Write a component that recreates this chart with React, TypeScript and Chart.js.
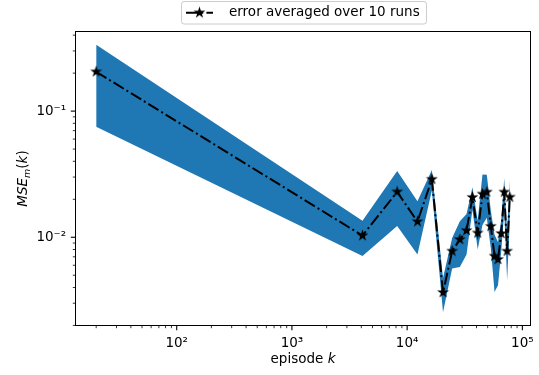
import { useEffect, useRef } from 'react';
import { Chart, registerables } from 'chart.js';

Chart.register(...registerables);

// Episodes at which the error was evaluated
const episodes = [
  20, 4096, 8192, 12288, 16384, 20480, 24576, 28672, 32768, 36864,
  40960, 45056, 49152, 53248, 57344, 61440, 65536, 69632, 73728, 77824,
];

// Mean squared error, averaged over the runs
const mseMean = [
  0.205, 0.0103, 0.0229, 0.0133, 0.0288, 0.00365, 0.00776, 0.0096, 0.0113, 0.0207,
  0.0108, 0.022, 0.0228, 0.0122, 0.00708, 0.00667, 0.0107, 0.0228, 0.00776, 0.0208,
];

// Spread of the error across the runs (one standard deviation)
const mseStd = [
  0.13, 0.0032, 0.0106, 0.006, 0.0053, 0.0011, 0.0021, 0.0038, 0.004, 0.0042,
  0.0028, 0.0095, 0.0085, 0.004, 0.0034, 0.0025, 0.003, 0.0066, 0.0032, 0.0076,
];

const seriesLabel = 'error averaged over 10 runs';

const xTickValues = [100, 1000, 10000, 100000];
const xTickLabels = ['10²', '10³', '10⁴', '10⁵'];
const yTickValues = [0.01, 0.1];
const yTickLabels = ['10⁻²', '10⁻¹'];

const FONT = 'DejaVu Sans';
const FS = 13.5;
const BLUE = '#1f77b4';
const DASH_DOT = [12, 3.2, 2, 3.2];

const W = 539;
const H = 375;
const AREA = { left: 75.5, right: 530.5, top: 31.5, bottom: 325.5 };

const upper = mseMean.map((m, i) => m + mseStd[i]);
const lower = mseMean.map((m, i) => m - mseStd[i]);

// log-axis limits with a 5% margin on each side, in decades
function logLimits(values: number[]): [number, number] {
  const lo = Math.log10(Math.min(...values));
  const hi = Math.log10(Math.max(...values));
  const pad = (hi - lo) * 0.05;
  return [Math.pow(10, lo - pad), Math.pow(10, hi + pad)];
}

const [xMin, xMax] = logLimits(episodes);
const [yMin, yMax] = logLimits([...upper, ...lower]);

function logTicks(min: number, max: number) {
  const ticks: { value: number; major: boolean }[] = [];
  for (let e = Math.floor(Math.log10(min)); e <= Math.ceil(Math.log10(max)); e++) {
    for (let c = 1; c <= 9; c++) {
      const v = c * Math.pow(10, e);
      if (v >= min && v <= max) ticks.push({ value: v, major: c === 1 });
    }
  }
  return ticks;
}

function labelFor(value: number, values: number[], labels: string[]) {
  for (let i = 0; i < values.length; i++) {
    if (Math.abs(Math.log10(value) - Math.log10(values[i])) < 1e-9) return labels[i];
  }
  return '';
}

function makeStar(r: number) {
  const c = document.createElement('canvas');
  const d = Math.ceil(r * 2 + 4);
  c.width = d;
  c.height = d;
  const g = c.getContext('2d')!;
  const cx = d / 2;
  const cy = d / 2;
  g.beginPath();
  for (let i = 0; i < 10; i++) {
    const rr = i % 2 === 0 ? r : r * 0.381966;
    const a = -Math.PI / 2 + (i * Math.PI) / 5;
    g.lineTo(cx + rr * Math.cos(a), cy + rr * Math.sin(a));
  }
  g.closePath();
  g.fillStyle = '#000';
  g.fill();
  g.lineWidth = 1.3;
  g.lineJoin = 'miter';
  g.strokeStyle = '#000';
  g.stroke();
  return c;
}

export default function App() {
  const canvasRef = useRef<HTMLCanvasElement | null>(null);

  useEffect(() => {
    const canvas = canvasRef.current;
    if (!canvas) return;
    const star = makeStar(4.1);

    const decorations = {
      id: 'decorations',
      afterDraw(chart: any) {
        const { ctx, chartArea, scales } = chart;
        const { left, right, top, bottom } = chartArea;
        ctx.save();

        // tick marks
        ctx.strokeStyle = '#000';
        for (const t of scales.x.ticks) {
          const px = scales.x.getPixelForValue(t.value);
          ctx.lineWidth = t.major ? 1.1 : 0.8;
          ctx.beginPath();
          ctx.moveTo(px, bottom);
          ctx.lineTo(px, bottom + (t.major ? 4.7 : 2.7));
          ctx.stroke();
        }
        for (const t of scales.y.ticks) {
          const py = scales.y.getPixelForValue(t.value);
          ctx.lineWidth = t.major ? 1.1 : 0.8;
          ctx.beginPath();
          ctx.moveTo(left, py);
          ctx.lineTo(left - (t.major ? 4.7 : 2.7), py);
          ctx.stroke();
        }

        // axes frame
        ctx.lineWidth = 1;
        ctx.strokeRect(left, top, right - left, bottom - top);

        // x axis title: "episode k"
        ctx.fillStyle = '#000';
        ctx.textBaseline = 'alphabetic';
        ctx.font = `${FS}px "${FONT}"`;
        const w1 = ctx.measureText('episode ').width;
        ctx.font = `italic ${FS}px "${FONT}"`;
        const w2 = ctx.measureText('k').width;
        const cx = (left + right) / 2;
        const x0 = cx - (w1 + w2) / 2;
        ctx.textAlign = 'left';
        ctx.font = `${FS}px "${FONT}"`;
        ctx.fillText('episode ', x0, 363);
        ctx.font = `italic ${FS}px "${FONT}"`;
        ctx.fillText('k', x0 + w1, 363);

        // y axis title: MSE_m(k)
        const parts: { t: string; font: string; dy: number }[] = [
          { t: 'MSE', font: `italic ${FS}px "${FONT}"`, dy: 0 },
          { t: 'm', font: `italic ${FS * 0.7}px "${FONT}"`, dy: 2.8 },
          { t: '(', font: `${FS}px "${FONT}"`, dy: 0 },
          { t: 'k', font: `italic ${FS}px "${FONT}"`, dy: 0 },
          { t: ')', font: `${FS}px "${FONT}"`, dy: 0 },
        ];
        let total = 0;
        const widths = parts.map((p) => {
          ctx.font = p.font;
          const w = ctx.measureText(p.t).width;
          total += w;
          return w;
        });
        ctx.translate(27, (top + bottom) / 2);
        ctx.rotate(-Math.PI / 2);
        let xp = -total / 2;
        parts.forEach((p, i) => {
          ctx.font = p.font;
          ctx.fillText(p.t, xp, p.dy);
          xp += widths[i];
        });
        ctx.setTransform(1, 0, 0, 1, 0, 0);

        // legend
        const bx = 181;
        const by = 1;
        const bw = 245;
        const bh = 22.5;
        ctx.beginPath();
        ctx.roundRect(bx + 0.5, by + 0.5, bw, bh, 2.5);
        ctx.fillStyle = 'rgba(255,255,255,0.8)';
        ctx.fill();
        ctx.strokeStyle = '#cccccc';
        ctx.lineWidth = 1;
        ctx.stroke();
        const ly = by + bh / 2 + 0.5;
        ctx.strokeStyle = '#000';
        ctx.lineWidth = 2;
        ctx.setLineDash(DASH_DOT);
        ctx.beginPath();
        ctx.moveTo(186, ly);
        ctx.lineTo(213, ly);
        ctx.stroke();
        ctx.setLineDash([]);
        ctx.drawImage(star, 199.5 - star.width / 2, ly - star.height / 2);
        ctx.fillStyle = '#000';
        ctx.font = `${FS}px "${FONT}"`;
        ctx.textBaseline = 'middle';
        ctx.fillText(seriesLabel, 229, ly);

        ctx.restore();
      },
    };

    const tickFont = { family: FONT, size: FS };

    const chart = new Chart(canvas, {
      type: 'line',
      data: {
        datasets: [
          {
            label: seriesLabel,
            data: episodes.map((x, i) => ({ x, y: mseMean[i] })),
            borderColor: '#000',
            borderWidth: 2,
            borderDash: DASH_DOT,
            pointStyle: star as any,
            pointRadius: 4,
            pointBackgroundColor: '#000',
            fill: false,
            tension: 0,
          },
          {
            label: 'upper',
            data: episodes.map((x, i) => ({ x, y: upper[i] })),
            borderColor: 'rgba(0,0,0,0)',
            borderWidth: 0,
            pointRadius: 0,
            backgroundColor: BLUE,
            fill: '+1',
            tension: 0,
          },
          {
            label: 'lower',
            data: episodes.map((x, i) => ({ x, y: lower[i] })),
            borderColor: 'rgba(0,0,0,0)',
            borderWidth: 0,
            pointRadius: 0,
            fill: false,
            tension: 0,
          },
        ],
      },
      options: {
        responsive: false,
        animation: false,
        devicePixelRatio: 1,
        layout: {
          padding: { left: 0, top: AREA.top, right: W - AREA.right, bottom: 0 },
        },
        plugins: {
          legend: { display: false },
          tooltip: { enabled: false },
        },
        scales: {
          x: {
            type: 'logarithmic',
            min: xMin,
            max: xMax,
            afterBuildTicks: (s: any) => {
              s.ticks = logTicks(s.min, s.max);
            },
            afterFit: (s: any) => {
              s.height = H - AREA.bottom;
            },
            grid: { display: false, drawTicks: true, tickLength: 4.7 },
            border: { display: false },
            ticks: {
              autoSkip: false,
              maxRotation: 0,
              minRotation: 0,
              padding: 4.7,
              color: '#000',
              font: tickFont,
              callback: (v: any) => labelFor(Number(v), xTickValues, xTickLabels),
            },
          },
          y: {
            type: 'logarithmic',
            min: yMin,
            max: yMax,
            afterBuildTicks: (s: any) => {
              s.ticks = logTicks(s.min, s.max);
            },
            afterFit: (s: any) => {
              s.width = AREA.left;
            },
            grid: { display: false, drawTicks: true, tickLength: 4.7 },
            border: { display: false },
            ticks: {
              autoSkip: false,
              padding: 4.7,
              color: '#000',
              font: tickFont,
              callback: (v: any) => labelFor(Number(v), yTickValues, yTickLabels),
            },
          },
        },
      },
      plugins: [decorations],
    });

    return () => chart.destroy();
  }, []);

  return (
    <div style={{ position: 'fixed', left: 0, top: 0, width: W, height: H, background: '#fff' }}>
      <canvas ref={canvasRef} width={W} height={H} style={{ width: W, height: H, display: 'block' }} />
    </div>
  );
}
